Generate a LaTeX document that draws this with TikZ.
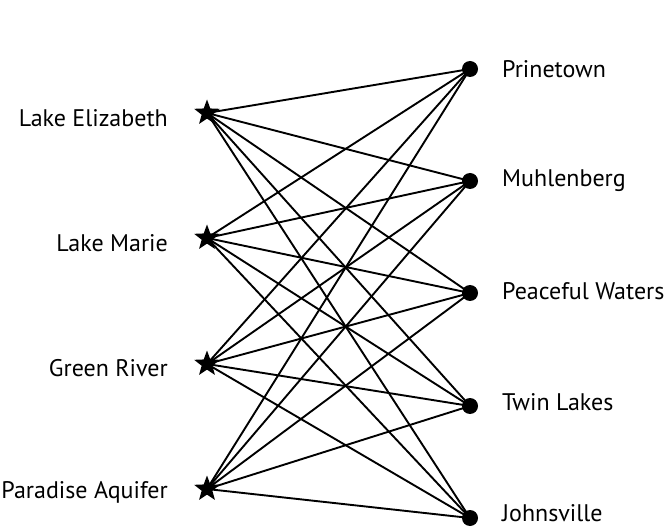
\documentclass[tikz,border=0pt]{standalone}
\usepackage{fontspec}
\setmainfont{PT Sans}
\usetikzlibrary{shapes.geometric}
\begin{document}
\begin{tikzpicture}[x=1pt,y=-1pt,
  src/.style={star,star points=5,star point ratio=2.4,fill=black,draw=none,minimum size=27pt,inner sep=0pt},
  dst/.style={circle,fill=black,draw=none,minimum size=16pt,inner sep=0pt},
  lbl/.style={font=\fontsize{24}{26}\selectfont,inner sep=0pt},
  edge/.style={line width=1.9pt}]
\useasboundingbox (0,0) rectangle (664,529);
\node[src] (s1) at (207,113) {};
\node[src] (s2) at (207,238) {};
\node[src] (s3) at (207,364) {};
\node[src] (s4) at (207,489) {};
\node[dst] (d1) at (470,69) {};
\node[dst] (d2) at (470,181) {};
\node[dst] (d3) at (470,293) {};
\node[dst] (d4) at (470,406) {};
\node[dst] (d5) at (470,518) {};
\node[lbl,anchor=east] (l1) at (168,118) {Lake Elizabeth};
\node[lbl,anchor=east] (l2) at (168,243) {Lake Marie};
\node[lbl,anchor=east] (l3) at (168,368) {Green River};
\node[lbl,anchor=east] (l4) at (168,492) {Paradise Aquifer};
\node[lbl,anchor=west] (r1) at (502,69) {Prinetown};
\node[lbl,anchor=west] (r2) at (502,181) {Muhlenberg};
\node[lbl,anchor=west] (r3) at (502,291) {Peaceful Waters};
\node[lbl,anchor=west] (r4) at (502,402) {Twin Lakes};
\node[lbl,anchor=west] (r5) at (502,513) {Johnsville};
\foreach \s in {s1,s2,s3,s4}{
  \foreach \d in {d1,d2,d3,d4,d5}{
    \draw[edge] (\s.center) -- (\d.center);
  }
}
\end{tikzpicture}
\end{document}
